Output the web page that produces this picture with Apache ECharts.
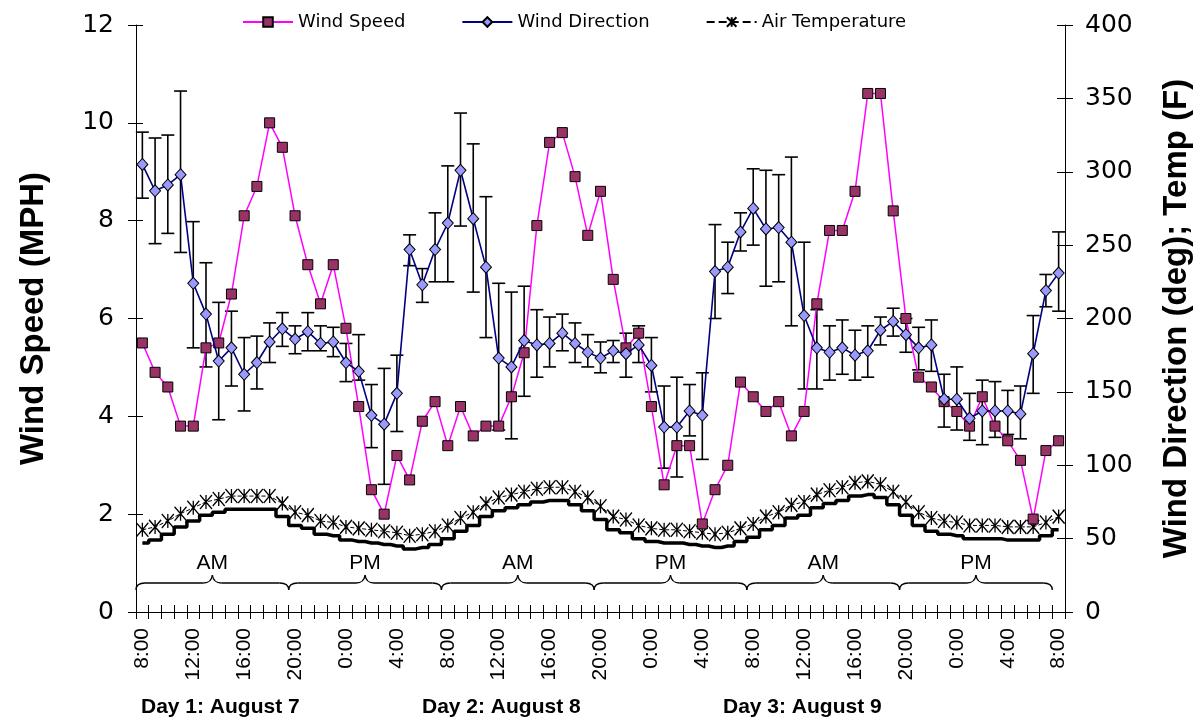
<!DOCTYPE html>
<html><head><meta charset="utf-8">
<script src="https://cdn.jsdelivr.net/npm/echarts@6/dist/echarts.min.js"></script>
<style>html,body{margin:0;padding:0;background:#fff}#c{width:1201px;height:725px}</style>
</head><body><div id="c"></div>
<script>
const hours = ['8:00','9:00','10:00','11:00','12:00','13:00','14:00','15:00','16:00','17:00','18:00','19:00',
  '20:00','21:00','22:00','23:00','0:00','1:00','2:00','3:00','4:00','5:00','6:00','7:00',
  '8:00','9:00','10:00','11:00','12:00','13:00','14:00','15:00','16:00','17:00','18:00','19:00',
  '20:00','21:00','22:00','23:00','0:00','1:00','2:00','3:00','4:00','5:00','6:00','7:00',
  '8:00','9:00','10:00','11:00','12:00','13:00','14:00','15:00','16:00','17:00','18:00','19:00',
  '20:00','21:00','22:00','23:00','0:00','1:00','2:00','3:00','4:00','5:00','6:00','7:00','8:00'];

const windSpeed = [5.5,4.9,4.6,3.8,3.8,5.4,5.5,6.5,8.1,8.7,10.0,9.5,8.1,7.1,6.3,7.1,5.8,4.2,2.5,2.0,3.2,2.7,3.9,4.3,
  3.4,4.2,3.6,3.8,3.8,4.4,5.3,7.9,9.6,9.8,8.9,7.7,8.6,6.8,5.4,5.7,4.2,2.6,3.4,3.4,1.8,2.5,3.0,4.7,4.4,
  4.1,4.3,3.6,4.1,6.3,7.8,7.8,8.6,10.6,10.6,8.2,6.0,4.8,4.6,4.3,4.1,3.8,4.4,3.8,3.5,3.1,1.9,3.3,3.5];

const windDir = [305,287,291,298,224,203,171,180,162,170,184,193,186,191,183,184,170,164,134,128,149,247,223,247,
  265,301,268,235,173,167,185,182,183,190,183,177,173,178,176,182,168,126,126,137,134,232,235,259,275,
  261,262,252,202,180,177,180,175,178,192,198,189,180,182,145,145,132,137,137,137,135,176,219,231];

const dirLow = [282,251,258,245,180,167,131,154,137,152,170,181,176,178,178,174,157,158,112,87,123,236,211,225,
  225,263,218,187,124,118,147,160,167,178,170,167,163,170,160,170,150,98,92,120,104,200,217,246,250,
  222,225,195,152,152,158,162,158,160,182,188,177,165,164,126,124,117,114,119,121,118,149,208,205];

const dirHigh = [327,323,325,355,266,238,211,205,187,188,197,204,195,204,195,194,183,189,155,166,175,257,234,272,
  304,340,319,283,224,218,222,206,201,203,197,189,184,185,190,195,187,154,160,155,163,264,252,272,302,
  301,298,310,252,206,195,199,192,195,201,207,200,194,199,162,167,149,158,157,151,154,202,230,259];

const airTemp = [56,58,62,67,71,75,77,79,79,79,79,74,68,66,62,61,58,57,56,55,54,52,53,55,
  59,64,68,74,78,80,82,84,85,85,82,78,72,65,63,59,57,56,56,55,54,53,54,57,60,
  65,68,73,75,80,83,85,88,89,87,82,75,68,64,62,61,59,59,59,58,58,58,61,65];

const braceStart = [0,12,24,36,48,60];
const braceEnd = [11,23,35,47,59,71];
const braceLabels = ['AM','PM','AM','PM','AM','PM'];
const dayLabels = ['Day 1: August 7','Day 2: August 8','Day 3: August 9'];

const TICK_FONT = '"DejaVu Sans", sans-serif';
const SANS = '"Liberation Sans", Arial, sans-serif';

const chart = echarts.init(document.getElementById('c'), null, {renderer:'canvas'});

const yBase = {
  axisLine:{show:true, lineStyle:{color:'#000', width:1}},
  axisTick:{show:true, length:8, lineStyle:{color:'#000', width:1}},
  splitLine:{show:false}
};

const option = {
  backgroundColor:'#fff',
  animation:false,
  grid:{left:136, right:133, top:25, bottom:113, containLabel:false},
  legend:{
    data:['Wind Speed','Wind Direction','Air Temperature'],
    top:8, left:237, itemWidth:50, itemHeight:12, itemGap:56,
    textStyle:{fontFamily:TICK_FONT, fontSize:18, color:'#000'}
  },
  xAxis:[
    {type:'category', data:hours, boundaryGap:true,
     axisLine:{lineStyle:{color:'#000', width:1}},
     axisTick:{show:true, interval:0, length:7, lineStyle:{color:'#000'}},
     axisLabel:{interval:3, rotate:90, margin:16, fontFamily:SANS, fontSize:21, color:'#000'},
     splitLine:{show:false}},
    {type:'category', data:hours, boundaryGap:true, position:'bottom',
     axisLine:{show:false},
     axisTick:{show:true, inside:true, interval:0, length:7, lineStyle:{color:'#000'}},
     axisLabel:{show:false}, splitLine:{show:false}}
  ],
  yAxis:[
    Object.assign({type:'value', position:'left', min:0, max:12, interval:2,
      name:'Wind Speed (MPH)', nameLocation:'middle', nameRotate:90, nameGap:86,
      nameTextStyle:{fontFamily:SANS, fontWeight:'bold', fontSize:33, color:'#000'},
      axisLabel:{margin:22, fontFamily:TICK_FONT, fontSize:25, color:'#000'}}, yBase),
    Object.assign({type:'value', position:'right', min:0, max:400, interval:50,
      name:'Wind Direction (deg); Temp (F)', nameLocation:'middle', nameRotate:90, nameGap:95,
      nameTextStyle:{fontFamily:SANS, fontWeight:'bold', fontSize:33, color:'#000'},
      axisLabel:{margin:20, fontFamily:TICK_FONT, fontSize:25, color:'#000'}}, yBase),
    {type:'value', position:'left', min:0, max:12, interval:2, axisLine:{show:false},
      axisTick:{show:true, inside:true, length:7, lineStyle:{color:'#000'}}, axisLabel:{show:false}, splitLine:{show:false}},
    {type:'value', position:'right', min:0, max:400, interval:50, axisLine:{show:false},
      axisTick:{show:true, inside:true, length:8, lineStyle:{color:'#000'}}, axisLabel:{show:false}, splitLine:{show:false}},
    {type:'value', show:false, min:9, max:409}
  ],
  graphic: dayLabels.map((t, k) => ({
    type:'text', left:[141, 422, 723][k], top:697,
    style:{text:t, font:'bold 21px "Liberation Sans", Arial, sans-serif', fill:'#000'}
  })),
  series:[
    {
      type:'custom', name:'braces', xAxisIndex:0, yAxisIndex:0, silent:true, z:1,
      data: braceStart.map((s, k) => [s, braceEnd[k], 0]),
      encode:{x:0, y:2},
      renderItem(params, api){
        const s = api.value(0), e = api.value(1);
        const bw = api.size([1, 0])[0];
        const p0 = api.coord([s, 0]);
        const x0 = p0[0] - bw / 2;
        const x1 = api.coord([e, 0])[0] + bw / 2;
        const yb = p0[1] - 29;
        const xm = (x0 + x1) / 2;
        const r = 9, h = 7, t = 8;
        const st = {stroke:'#000', lineWidth:1.3, fill:null};
        return {type:'group', children:[
          {type:'bezierCurve', shape:{x1:x0, y1:yb + h, cpx1:x0, cpy1:yb, x2:x0 + r, y2:yb}, style:st},
          {type:'line', shape:{x1:x0 + r, y1:yb, x2:xm - r, y2:yb}, style:st},
          {type:'bezierCurve', shape:{x1:xm - r, y1:yb, cpx1:xm - 1, cpy1:yb, x2:xm, y2:yb - t}, style:st},
          {type:'bezierCurve', shape:{x1:xm, y1:yb - t, cpx1:xm + 1, cpy1:yb, x2:xm + r, y2:yb}, style:st},
          {type:'line', shape:{x1:xm + r, y1:yb, x2:x1 - r, y2:yb}, style:st},
          {type:'bezierCurve', shape:{x1:x1 - r, y1:yb, cpx1:x1, cpy1:yb, x2:x1, y2:yb + h}, style:st},
          {type:'text', style:{text:braceLabels[params.dataIndex], x:xm, y:yb - 20, align:'center',
            verticalAlign:'middle', font:'21px "Liberation Sans", Arial, sans-serif', fill:'#000'}}
        ]};
      }
    },
    {
      type:'line', name:'Wind Speed', xAxisIndex:0, yAxisIndex:0, data:windSpeed, z:4,
      symbol:'rect', symbolSize:10, showAllSymbol:true,
      lineStyle:{color:'#FF00FF', width:1.5},
      itemStyle:{color:'#993366', borderColor:'#000', borderWidth:1}
    },
    {
      type:'custom', name:'dirErr', xAxisIndex:0, yAxisIndex:1, silent:true, z:3,
      data: windDir.map((_, i) => [i, dirLow[i], dirHigh[i]]),
      encode:{x:0, y:[1, 2]},
      renderItem(params, api){
        const x = api.value(0);
        const lo = api.coord([x, api.value(1)]);
        const hi = api.coord([x, api.value(2)]);
        const w = 6.5;
        const st = {stroke:'#000', lineWidth:1.6};
        return {type:'group', children:[
          {type:'line', shape:{x1:lo[0], y1:lo[1], x2:hi[0], y2:hi[1]}, style:st},
          {type:'line', shape:{x1:lo[0] - w, y1:lo[1], x2:lo[0] + w, y2:lo[1]}, style:st},
          {type:'line', shape:{x1:hi[0] - w, y1:hi[1], x2:hi[0] + w, y2:hi[1]}, style:st}
        ]};
      }
    },
    {
      type:'line', name:'Wind Direction', xAxisIndex:0, yAxisIndex:1, data:windDir, z:5,
      symbol:'diamond', symbolSize:[11, 12], showAllSymbol:true,
      lineStyle:{color:'#000080', width:1.6},
      itemStyle:{color:'#9999FF', borderColor:'#000', borderWidth:1}
    },
    {
      type:'line', name:'tempShadow', xAxisIndex:0, yAxisIndex:4, data:airTemp, z:2,
      step:'middle', symbol:'none',
      lineStyle:{color:'#000', width:3.5}
    },
    {
      type:'line', name:'Air Temperature', xAxisIndex:0, yAxisIndex:1, data:airTemp, z:3,
      symbol:'path://M0,0L10,10M10,0L0,10M5,0L5,10', symbolSize:[12, 14], showAllSymbol:true,
      lineStyle:{color:'#000', width:1, type:'dashed'},
      itemStyle:{color:'#000', borderColor:'#000', borderWidth:1.4}
    }
  ]
};
chart.setOption(option);
</script>
</body></html>
